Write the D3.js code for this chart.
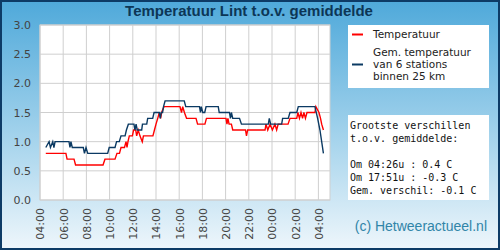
<!DOCTYPE html>
<html lang="nl">
<head>
<meta charset="UTF-8">
<title>Temperatuur Lint</title>
<style>
    body { margin: 0; padding: 0; }
    svg { display: block; }
</style>
</head>
<body>
<div id="chart"></div>
<script src="https://cdn.jsdelivr.net/npm/d3@7"></script>
<script>

    // data
    const tempTimes = ["04:30","06:14","06:20","06:56","07:04","09:26","09:36","10:28","10:38","10:51","10:59","11:17","11:25","11:30","11:35","11:42","11:58","12:04","12:15","12:20","12:28","12:37","12:49","12:55","13:44","13:52","14:00","14:09","14:17","14:24","14:29","14:41","16:04","16:12","16:18","16:27","16:38","17:27","17:35","18:13","18:21","20:02","20:07","20:12","20:18","20:30","20:37","21:43","21:48","21:54","23:24","23:29","23:38","23:50","00:02","00:15","00:24","00:32","01:23","01:33","02:08","02:14","02:22","02:30","02:38","02:45","02:53","03:01","03:42","03:47","04:03","04:11","04:17","04:26"];
    const tempValues = [0.8,0.8,0.7,0.7,0.6,0.6,0.7,0.7,0.8,0.8,0.9,0.9,1.0,0.9,1.0,1.1,1.1,1.2,1.2,1.1,1.2,1.1,1.0,1.1,1.1,1.2,1.3,1.4,1.5,1.4,1.5,1.6,1.6,1.5,1.6,1.5,1.4,1.4,1.3,1.3,1.4,1.4,1.3,1.4,1.3,1.3,1.2,1.2,1.1,1.2,1.2,1.3,1.2,1.3,1.2,1.3,1.2,1.3,1.3,1.4,1.4,1.5,1.4,1.5,1.4,1.5,1.4,1.5,1.5,1.6,1.5,1.4,1.3,1.2];

    const avgTimes = ["04:30","04:47","04:54","05:06","05:12","05:18","06:30","06:35","06:40","06:47","07:44","07:50","07:58","08:07","09:50","09:58","10:28","10:36","10:50","10:59","11:20","11:27","11:37","12:06","12:11","12:17","12:23","12:46","12:50","13:12","13:17","13:43","13:50","14:17","14:22","14:27","14:34","14:39","14:47","16:26","16:34","17:45","17:50","17:54","18:02","18:12","18:19","19:22","19:27","20:20","20:25","20:30","20:37","21:12","21:22","23:41","23:46","23:53","00:50","00:55","01:24","01:33","02:08","02:16","03:42","03:56","04:08","04:26"];
    const avgValues = [0.9,1.0,0.9,1.0,0.9,1.0,1.0,0.9,1.0,0.9,0.9,0.8,0.9,0.8,0.8,0.9,0.9,1.0,1.0,1.1,1.1,1.2,1.3,1.3,1.2,1.3,1.2,1.2,1.3,1.3,1.4,1.4,1.5,1.5,1.4,1.5,1.5,1.6,1.7,1.7,1.6,1.6,1.5,1.6,1.5,1.5,1.6,1.6,1.5,1.5,1.4,1.5,1.4,1.4,1.3,1.3,1.4,1.3,1.3,1.4,1.4,1.5,1.5,1.6,1.6,1.4,1.2,0.8];

    const yTicks = [0, 0.5, 1.0, 1.5, 2.0, 2.5, 3.0];
    const xTickLabels = ["04:00","06:00","08:00","10:00","12:00","14:00","16:00","18:00","20:00","22:00","00:00","02:00","04:00"];

    const legendLabels = [["Temperatuur"], ["Gem. temperatuur", "van 6 stations", "binnen 25 km"]];
    const infoLines = ["Grootste verschillen", "t.o.v. gemiddelde:", "", "Om 04:26u : 0.4 C", "Om 17:51u : -0.3 C", "Gem. verschil: -0.1 C"];

    // times roll over past midnight
    function toDates(list) {
        let day = 1, prev = -1;
        return list.map((t) => {
            const [hh, mm] = t.split(":").map(Number);
            const m = hh * 60 + mm;
            if (m < prev) day++;
            prev = m;
            return new Date(2024, 0, day, hh, mm);
        });
    }

    const tempSeries = toDates(tempTimes).map((d, i) => ({ t: d, v: tempValues[i] }));
    const avgSeries = toDates(avgTimes).map((d, i) => ({ t: d, v: avgValues[i] }));
    const tickDates = toDates(xTickLabels);

    const w = 500;
    const h = 250;
    const plot = { left: 40, right: 330, top: 25, bottom: 200 };

    const svg = d3.select("#chart")
        .append("svg")
        .attr("width", w)
        .attr("height", h);

    const grad = svg.append("defs")
        .append("linearGradient")
        .attr("id", "bg")
        .attr("x1", 0).attr("y1", 0).attr("x2", 0).attr("y2", 1);
    grad.append("stop").attr("offset", "0%").attr("stop-color", "#4fa9da");
    grad.append("stop").attr("offset", "55%").attr("stop-color", "#a4d3ec");
    grad.append("stop").attr("offset", "100%").attr("stop-color", "#eef6fb");

    svg.append("rect")
        .attr("x", 1).attr("y", 1)
        .attr("width", w - 2).attr("height", h - 2)
        .attr("fill", "url(#bg)")
        .attr("stroke", "#0d3b66")
        .attr("stroke-width", 2);

    // title
    svg.append("text")
        .attr("x", 249).attr("y", 16)
        .attr("text-anchor", "middle")
        .style("font-family", "'Liberation Sans', Arial, sans-serif")
        .style("font-weight", "bold")
        .style("font-size", "15px")
        .attr("fill", "#0c3656")
        .text("Temperatuur Lint t.o.v. gemiddelde");

    const x = d3.scaleTime()
        .domain([tickDates[0], d3.timeHour.offset(tickDates[tickDates.length - 1], 1)])
        .range([plot.left, plot.right]);

    const y = d3.scaleLinear()
        .domain([0, 3])
        .range([plot.bottom, plot.top]);

    svg.append("rect")
        .attr("x", plot.left).attr("y", plot.top)
        .attr("width", plot.right - plot.left)
        .attr("height", plot.bottom - plot.top)
        .attr("fill", "white")
        .attr("stroke", "#cfcfcf");

    // grid
    svg.append("g")
        .selectAll("line")
        .data(tickDates)
        .enter()
        .append("line")
        .attr("x1", (d) => x(d)).attr("x2", (d) => x(d))
        .attr("y1", plot.top).attr("y2", plot.bottom)
        .attr("stroke", "#cfcfcf");

    svg.append("g")
        .selectAll("line")
        .data(yTicks)
        .enter()
        .append("line")
        .attr("x1", plot.left).attr("x2", plot.right)
        .attr("y1", (d) => y(d)).attr("y2", (d) => y(d))
        .attr("stroke", "#cfcfcf");

    // axes
    const yAxis = svg.append("g")
        .attr("transform", `translate(${plot.left - 9}, 0)`)
        .call(d3.axisLeft(y).tickValues(yTicks).tickFormat(d3.format(".1f")).tickSize(0));
    yAxis.select(".domain").remove();
    yAxis.selectAll("text")
        .attr("x", 0)
        .style("font-family", "'DejaVu Sans', sans-serif")
        .style("font-size", "11px")
        .attr("fill", "#444");

    const xAxis = svg.append("g")
        .attr("transform", `translate(0, ${plot.bottom})`)
        .call(d3.axisBottom(x).tickValues(tickDates).tickFormat((d, i) => xTickLabels[i]).tickSize(0));
    xAxis.select(".domain").remove();
    xAxis.selectAll("text")
        .attr("transform", "rotate(-90)")
        .attr("x", -8)
        .attr("y", 0)
        .attr("dy", "0.35em")
        .attr("text-anchor", "end")
        .style("font-family", "'DejaVu Sans', sans-serif")
        .style("font-size", "11px")
        .attr("fill", "#444");

    // lines
    const line = d3.line()
        .x((d) => x(d.t))
        .y((d) => y(d.v));

    svg.append("path")
        .datum(tempSeries)
        .attr("d", line)
        .attr("fill", "none")
        .attr("stroke", "#ff0000")
        .attr("stroke-width", 1.4);

    svg.append("path")
        .datum(avgSeries)
        .attr("d", line)
        .attr("fill", "none")
        .attr("stroke", "#0b3a63")
        .attr("stroke-width", 1.4);

    // legend
    const legend = svg.append("g");
    legend.append("rect")
        .attr("x", 348).attr("y", 25)
        .attr("width", 141).attr("height", 63)
        .attr("fill", "white");

    const legendColors = ["#ff0000", "#0b3a63"];
    const legendY = [38, 56];
    const lineGap = 12;
    legendLabels.forEach((lines, i) => {
        const midY = legendY[i] + (lines.length - 1) * lineGap / 2 - 3.5;
        legend.append("line")
            .attr("x1", 352).attr("x2", 363)
            .attr("y1", midY).attr("y2", midY)
            .attr("stroke", legendColors[i])
            .attr("stroke-width", 2);
        legend.append("text")
            .attr("x", 373).attr("y", legendY[i])
            .style("font-family", "'DejaVu Sans', sans-serif")
            .style("font-size", "10.5px")
            .attr("fill", "#222")
            .selectAll("tspan")
            .data(lines)
            .enter()
            .append("tspan")
            .attr("x", 373)
            .attr("dy", (d, j) => j === 0 ? 0 : lineGap)
            .text((d) => d);
    });

    // info box
    svg.append("rect")
        .attr("x", 348).attr("y", 115)
        .attr("width", 141).attr("height", 85)
        .attr("fill", "white");

    svg.append("text")
        .attr("x", 350).attr("y", 129)
        .style("font-family", "'DejaVu Sans Mono', monospace")
        .style("font-size", "10px")
        .attr("fill", "#111")
        .selectAll("tspan")
        .data(infoLines)
        .enter()
        .append("tspan")
        .attr("x", 350)
        .attr("dy", (d, i) => i === 0 ? 0 : 13)
        .text((d) => d === "" ? "\u00a0" : d);

    svg.append("text")
        .attr("x", 487).attr("y", 231)
        .attr("text-anchor", "end")
        .style("font-family", "'Liberation Sans', Arial, sans-serif")
        .style("font-size", "14px")
        .attr("fill", "#3185a8")
        .text("(c) Hetweeractueel.nl");

</script>
</body>
</html>
